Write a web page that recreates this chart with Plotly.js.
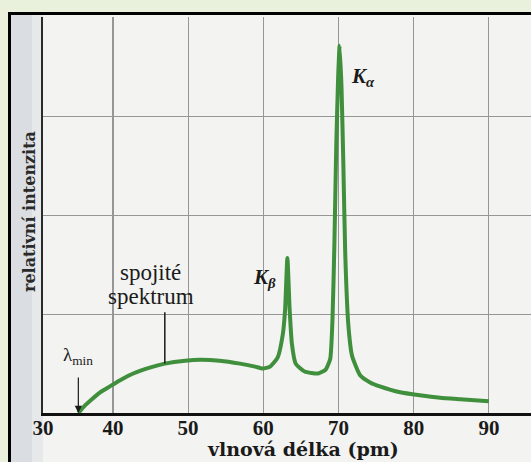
<!DOCTYPE html>
<html>
<head>
<meta charset="utf-8">
<script src="https://cdn.plot.ly/plotly-3.0.1.min.js"></script>
<style>html,body{margin:0;padding:0;background:#e9f1dd;}#chart{width:531px;height:462px;}</style>
</head>
<body>
<div id="chart"></div>
<script>
// wavelength (pm) and relative intensity
const wavelength = [35.4, 36.2, 37.2, 38.3, 39.6, 40.9, 42.7, 44.9, 46.9, 49.6, 51.6, 54.2, 56.9, 58.9, 59.9, 60.9, 61.9, 62.6, 62.9, 63.2, 63.5, 63.8, 64.3, 65.5, 67.3, 68.3, 68.9, 69.2, 69.45, 69.7, 69.95, 70.15, 70.4, 70.65, 70.9, 71.3, 71.8, 72.9, 74.2, 75.5, 78.2, 80.8, 83.5, 86.2, 90.0];
const intensity  = [0.0,  0.07, 0.14, 0.21, 0.27, 0.33, 0.40, 0.46, 0.50, 0.53, 0.54, 0.53, 0.50, 0.47, 0.45, 0.47, 0.56, 0.80, 1.05, 1.57, 1.05, 0.70, 0.50, 0.42, 0.40, 0.44, 0.55, 0.95, 1.70, 2.70, 3.40, 3.72, 3.30, 2.50, 1.60, 0.90, 0.58, 0.38, 0.31, 0.27, 0.21, 0.18, 0.155, 0.14, 0.12];
const tickValues = [30.7, 40, 50, 60, 70, 80, 90];
const tickLabels = ['30', '40', '50', '60', '70', '80', '90'];
const xTitle = 'vlnová délka (pm)';
const yTitle = 'relativní intenzita';
const continuumLines = ['spojité', 'spektrum'];
const continuumX = 46.9;

const serif = "'DejaVu Serif', 'Liberation Serif', serif";
const times = "'Liberation Serif', serif";
const ink = '#1a1a1a';
const contIdx = wavelength.indexOf(continuumX);

const trace = {
  x: wavelength, y: intensity, type: 'scatter', mode: 'lines',
  line: {color: '#3f8f3c', width: 4, shape: 'spline', smoothing: 0.5},
  hoverinfo: 'skip'
};

const layout = {
  width: 531, height: 462,
  margin: {l: 43, r: 0, t: 17, b: 49},
  paper_bgcolor: '#e9f1dd',
  plot_bgcolor: 'rgba(0,0,0,0)',
  showlegend: false,
  xaxis: {
    range: [30.7, 95.6], tickvals: tickValues, ticktext: tickLabels.map(t => '<b>' + t + '</b>'),
    showgrid: true, gridcolor: '#969696', gridwidth: 1.2,
    zeroline: false, showline: true, linecolor: '#111', linewidth: 2.5,
    ticks: '', ticklabelstandoff: -6,
    tickfont: {family: times, size: 21, color: '#1a1a1a'}, fixedrange: true
  },
  yaxis: {
    range: [0, 4.01], tickvals: [0, 1, 2, 3, 4], showticklabels: false,
    showgrid: true, gridcolor: '#969696', gridwidth: 1.2,
    zeroline: false, showline: true, linecolor: '#2a2a2a', linewidth: 2,
    ticks: '', fixedrange: true
  },
  shapes: [
    {type: 'rect', xref: 'paper', yref: 'paper', layer: 'below',
     x0: (8 - 43) / 488, x1: 1.1, y0: -0.2, y1: (413 - 12) / 396,
     fillcolor: '#000', line: {width: 0}},
    {type: 'rect', xref: 'paper', yref: 'paper', layer: 'below',
     x0: (11 - 43) / 488, x1: 1.1, y0: -0.2, y1: (413 - 15) / 396,
     fillcolor: '#f3f3f1', line: {width: 0}},
    {type: 'rect', xref: 'paper', yref: 'paper', layer: 'below',
     x0: (11 - 43) / 488, x1: (32 - 43) / 488, y0: -0.2, y1: (413 - 15) / 396,
     fillcolor: '#dadde1', line: {width: 0}},
    {type: 'rect', xref: 'paper', yref: 'paper', layer: 'below',
     x0: (32 - 43) / 488, x1: 0, y0: -0.2, y1: (413 - 15) / 396,
     fillcolor: '#e6e8ea', line: {width: 0}},
    {type: 'line', xref: 'x', yref: 'y',
     x0: continuumX, x1: continuumX, y0: intensity[contIdx], y1: 1.02,
     line: {color: ink, width: 1.5}}
  ],
  annotations: [
    {xref: 'x', yref: 'y', x: 73.25, y: 3.40, showarrow: false,
     text: '<b><i>K<sub>α</sub></i></b>',
     font: {family: times, size: 21, color: ink}},
    {xref: 'x', yref: 'y', x: 60.2, y: 1.37, showarrow: false,
     text: '<b><i>K<sub>β</sub></i></b>',
     font: {family: times, size: 21, color: ink}},
    {xref: 'x', yref: 'y', x: 45.06, y: (413 - 272) / 99, showarrow: false,
     text: continuumLines[0],
     font: {family: times, size: 23, color: ink}},
    {xref: 'x', yref: 'y', x: 45.06, y: (413 - 296) / 99, showarrow: false,
     text: continuumLines[1],
     font: {family: times, size: 23, color: ink}},
    {xref: 'x', yref: 'y', x: wavelength[0], y: intensity[0],
     text: 'λ<sub>min</sub>', showarrow: true, arrowhead: 2, arrowsize: 1.2,
     arrowwidth: 1.2, arrowcolor: ink, ax: 0, ay: -57, startstandoff: 8,
     font: {family: times, size: 19, color: ink}},
    {xref: 'paper', yref: 'paper', x: (303 - 43) / 488, y: (413 - 449) / 396,
     xanchor: 'center', yanchor: 'middle',
     showarrow: false, text: '<b>' + xTitle + '</b>',
     font: {family: serif, size: 19, color: ink}},
    {xref: 'paper', yref: 'paper', x: (29 - 43) / 488, y: (413 - 212) / 396,
     xanchor: 'center', yanchor: 'middle',
     showarrow: false, textangle: -90, text: '<b>' + yTitle + '</b>',
     font: {family: serif, size: 16, color: '#2a2a2a'}}
  ]
};

Plotly.newPlot('chart', [trace], layout, {staticPlot: true, displayModeBar: false});
</script>
</body>
</html>
